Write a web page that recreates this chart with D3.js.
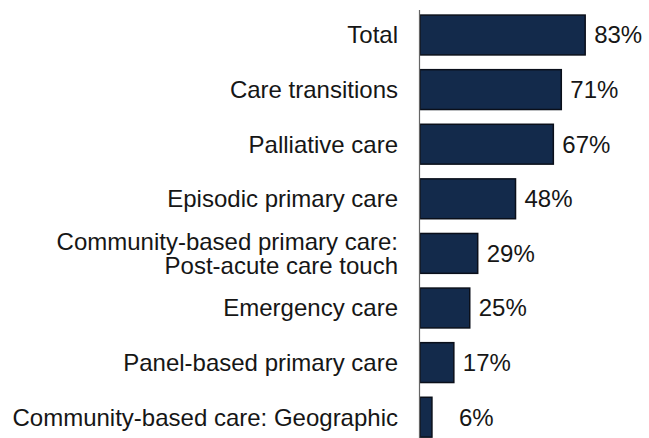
<!DOCTYPE html>
<html>
<head>
<meta charset="utf-8">
<script src="https://cdn.jsdelivr.net/npm/d3@7"></script>
<style>
  html, body { margin: 0; padding: 0; background: #fff; }
  svg { display: block; }
  text { font-family: "Liberation Sans", Arial, sans-serif; fill: #161616; }
</style>
</head>
<body>
<svg id="chart" width="649" height="438"></svg>
<script>
// Share of programs by type (percent)
const categories = [
  "Total",
  "Care transitions",
  "Palliative care",
  "Episodic primary care",
  "Community-based primary care:\nPost-acute care touch",
  "Emergency care",
  "Panel-based primary care",
  "Community-based care: Geographic"
];
const values = [83, 71, 67, 48, 29, 25, 17, 6];
const valueLabels = ["83%", "71%", "67%", "48%", "29%", "25%", "17%", "6%"];

const svg = d3.select("#chart");
const x0 = 420;
const fontSize = 24;

const x = d3.scaleLinear().domain([0, 100]).range([x0, x0 + 199]);
const y = d3.scaleBand()
  .domain(categories)
  .range([7.7, 444.5])
  .paddingInner(0.27)
  .paddingOuter(0.135);

// bars
svg.append("g").selectAll("rect")
  .data(values)
  .join("rect")
  .attr("x", x(0))
  .attr("y", (d, i) => y(categories[i]))
  .attr("width", d => x(d) - x(0))
  .attr("height", y.bandwidth())
  .attr("fill", "#132a4b")
  .attr("stroke", "#0a0f1a")
  .attr("stroke-width", 1.5);

// vertical category axis line
svg.append("line")
  .attr("x1", x0 - 0.5).attr("x2", x0 - 0.5)
  .attr("y1", 10).attr("y2", 438)
  .attr("stroke", "#666").attr("stroke-width", 1.2);

// category labels, right-aligned to the left of the axis
const cat = svg.append("g").selectAll("text")
  .data(categories)
  .join("text")
  .attr("text-anchor", "end")
  .attr("font-size", fontSize)
  .attr("transform", d => `translate(398, ${y(d) + y.bandwidth() / 2})`);

cat.each(function (d) {
  const lines = d.split("\n");
  const t = d3.select(this);
  const lh = 24;
  lines.forEach((ln, k) => {
    t.append("tspan")
      .attr("x", 0)
      .attr("y", (k - (lines.length - 1) / 2) * lh)
      .attr("dy", "0.35em")
      .text(ln);
  });
});

// value labels next to bar ends
svg.append("g").selectAll("text")
  .data(values)
  .join("text")
  .attr("font-size", fontSize)
  .attr("x", d => Math.max(x(d) + 9, 459))
  .attr("y", (d, i) => y(categories[i]) + y.bandwidth() / 2)
  .attr("dy", "0.35em")
  .text((d, i) => valueLabels[i]);
</script>
</body>
</html>
